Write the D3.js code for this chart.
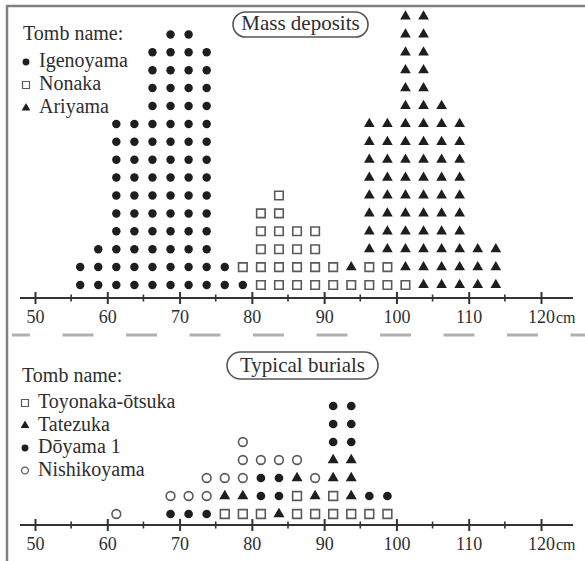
<!DOCTYPE html>
<html>
<head>
<meta charset="utf-8">
<script src="https://cdn.jsdelivr.net/npm/d3@7"></script>
<style>
  body { margin: 0; background: #fff; }
  text { font-family: "Liberation Serif", "DejaVu Serif", serif; fill: #2e2e2e; }
</style>
</head>
<body>
<div class="chart"></div>
<script>
var width = 585,
    height = 561;

// bin centres in cm (2.5 cm bins)
var massBins = [56.25, 58.75, 61.25, 63.75, 66.25, 68.75, 71.25, 73.75, 76.25, 78.75, 81.25, 83.75,
                86.25, 88.75, 91.25, 93.75, 96.25, 98.75, 101.25, 103.75, 106.25, 108.75, 111.25, 113.75];
var igenoyama = [2, 3, 10, 10, 14, 15, 15, 14, 2, 1, 0, 0, 0, 0, 0, 0, 0, 0, 0, 0, 0, 0, 0, 0];
var nonaka    = [0, 0, 0, 0, 0, 0, 0, 0, 0, 1, 5, 6, 4, 4, 2, 1, 2, 2, 1, 0, 0, 0, 0, 0];
var ariyama   = [0, 0, 0, 0, 0, 0, 0, 0, 0, 0, 0, 0, 0, 0, 0, 1, 8, 8, 15, 16, 11, 10, 3, 3];

var burialBins = [61.25, 63.75, 66.25, 68.75, 71.25, 73.75, 76.25, 78.75, 81.25, 83.75, 86.25, 88.75,
                  91.25, 93.75, 96.25, 98.75];
var toyonaka    = [0, 0, 0, 0, 0, 0, 1, 1, 1, 0, 2, 1, 2, 1, 1, 1];
var tatezuka    = [0, 0, 0, 0, 0, 0, 1, 1, 0, 1, 1, 1, 2, 3, 0, 0];
var doyama      = [0, 0, 0, 1, 1, 1, 0, 0, 2, 2, 0, 0, 3, 3, 1, 1];
var nishikoyama = [1, 0, 0, 1, 1, 2, 1, 3, 1, 1, 1, 1, 0, 0, 0, 0];

var majorTicks = [50, 60, 70, 80, 90, 100, 110, 120];
var minorTicks = [55, 65, 75, 85, 95, 105, 115];

var svg = d3.select(".chart").append("svg")
    .attr("width", width)
    .attr("height", height);

var x = d3.scaleLinear().domain([50, 120]).range([35, 541]);

// frame (top + left edge)
svg.append("path")
    .attr("d", "M7,561V6H585")
    .attr("fill", "none")
    .attr("stroke", "#808080")
    .attr("stroke-width", 2.5);

// dashed separator
svg.append("line")
    .attr("x1", 12).attr("x2", 585)
    .attr("y1", 335).attr("y2", 335)
    .attr("stroke", "#b0b0b0")
    .attr("stroke-width", 3)
    .attr("stroke-dasharray", "31,32.5")
    .attr("stroke-dashoffset", 13);

function marker(kind, size) {
  var sym = d3.symbol();
  if (kind == "dot" || kind == "ring") sym.type(d3.symbolCircle).size(size * 0.85);
  if (kind == "square") sym.type(d3.symbolSquare).size(size * 1.1);
  if (kind == "tri") sym.type(d3.symbolTriangle).size(size * 0.75);
  return sym();
}

function styleMarker(sel, kind) {
  if (kind == "dot" || kind == "tri") {
    sel.attr("fill", "#1e1e1e").attr("stroke", "none");
  } else {
    sel.attr("fill", "#fff").attr("stroke", "#5a5a5a").attr("stroke-width", 1.6);
  }
}

function drawAxis(yAxis) {
  var g = svg.append("g").attr("transform", "translate(0," + yAxis + ")");

  g.append("line")
      .attr("x1", 20).attr("x2", 573)
      .attr("stroke", "#333")
      .attr("stroke-width", 2.2);

  var axis = d3.axisBottom(x)
      .tickValues(majorTicks)
      .tickSize(6)
      .tickPadding(6)
      .tickFormat(d3.format("d"));
  var ax = g.append("g").call(axis)
      .attr("font-family", null);
  ax.select(".domain").remove();
  ax.selectAll(".tick line")
      .attr("y1", -6).attr("y2", 6)
      .attr("stroke", "#333")
      .attr("stroke-width", 2);
  ax.selectAll(".tick text")
      .attr("font-size", 18)
      .attr("fill", null);

  g.selectAll(".minor")
      .data(minorTicks)
      .enter().append("line")
      .attr("class", "minor")
      .attr("x1", function(d) { return x(d); })
      .attr("x2", function(d) { return x(d); })
      .attr("y1", -3.5).attr("y2", 3.5)
      .attr("stroke", "#333")
      .attr("stroke-width", 1.6);

  g.append("text")
      .attr("x", x(120) + 15)
      .attr("y", 25)
      .attr("font-size", 16)
      .text("cm");
}

function drawDots(bins, series, yBase, step, size) {
  var y = d3.scaleLinear().domain([0, 1]).range([yBase, yBase - step]);
  var pts = [];
  bins.forEach(function(b, i) {
    var h = 0;
    series.forEach(function(s) {
      for (var k = 0; k < s.values[i]; k++) {
        pts.push({ cm: b, row: h, kind: s.kind });
        h++;
      }
    });
  });
  svg.append("g").selectAll("path")
      .data(pts)
      .enter().append("path")
      .attr("transform", function(d) { return "translate(" + x(d.cm) + "," + y(d.row) + ")"; })
      .attr("d", function(d) { return marker(d.kind, size); })
      .each(function(d) { styleMarker(d3.select(this), d.kind); });
}

function drawLegend(items, x0, yTitle, yFirst, step) {
  var g = svg.append("g");
  g.append("text")
      .attr("x", x0)
      .attr("y", yTitle)
      .attr("font-size", 20)
      .text("Tomb name:");
  items.forEach(function(it, i) {
    var yy = yFirst + i * step;
    var p = g.append("path")
        .attr("transform", "translate(" + (x0 + 3) + "," + (yy - 5) + ")")
        .attr("d", marker(it.kind, 44));
    styleMarker(p, it.kind);
    p.attr("stroke-width", 1.2);
    g.append("text")
        .attr("x", x0 + 16)
        .attr("y", yy)
        .attr("font-size", 20)
        .text(it.name);
  });
}

function drawBadge(cx, y0, w, h, label) {
  svg.append("rect")
      .attr("x", cx - w / 2).attr("y", y0)
      .attr("width", w).attr("height", h)
      .attr("rx", h / 2)
      .attr("fill", "#fff")
      .attr("stroke", "#555")
      .attr("stroke-width", 1.6);
  svg.append("text")
      .attr("x", cx)
      .attr("y", y0 + h - 7)
      .attr("text-anchor", "middle")
      .attr("font-size", 21)
      .text(label);
}

// top panel: mass deposits
drawAxis(298);
drawDots(massBins, [
  { kind: "dot", values: igenoyama },
  { kind: "square", values: nonaka },
  { kind: "tri", values: ariyama }
], 285, 17.9, 66);
drawLegend([
  { kind: "dot", name: "Igenoyama" },
  { kind: "square", name: "Nonaka" },
  { kind: "tri", name: "Ariyama" }
], 23, 40, 67, 23);
drawBadge(300.5, 12, 135, 25, "Mass deposits");

// bottom panel: typical burials
drawAxis(525);
drawDots(burialBins, [
  { kind: "square", values: toyonaka },
  { kind: "tri", values: tatezuka },
  { kind: "dot", values: doyama },
  { kind: "ring", values: nishikoyama }
], 514, 18, 70);
drawLegend([
  { kind: "square", name: "Toyonaka-ōtsuka" },
  { kind: "tri", name: "Tatezuka" },
  { kind: "dot", name: "Dōyama 1" },
  { kind: "ring", name: "Nishikoyama" }
], 22, 382, 408, 22.5);
drawBadge(302.5, 352, 151, 27, "Typical burials");
</script>
</body>
</html>
